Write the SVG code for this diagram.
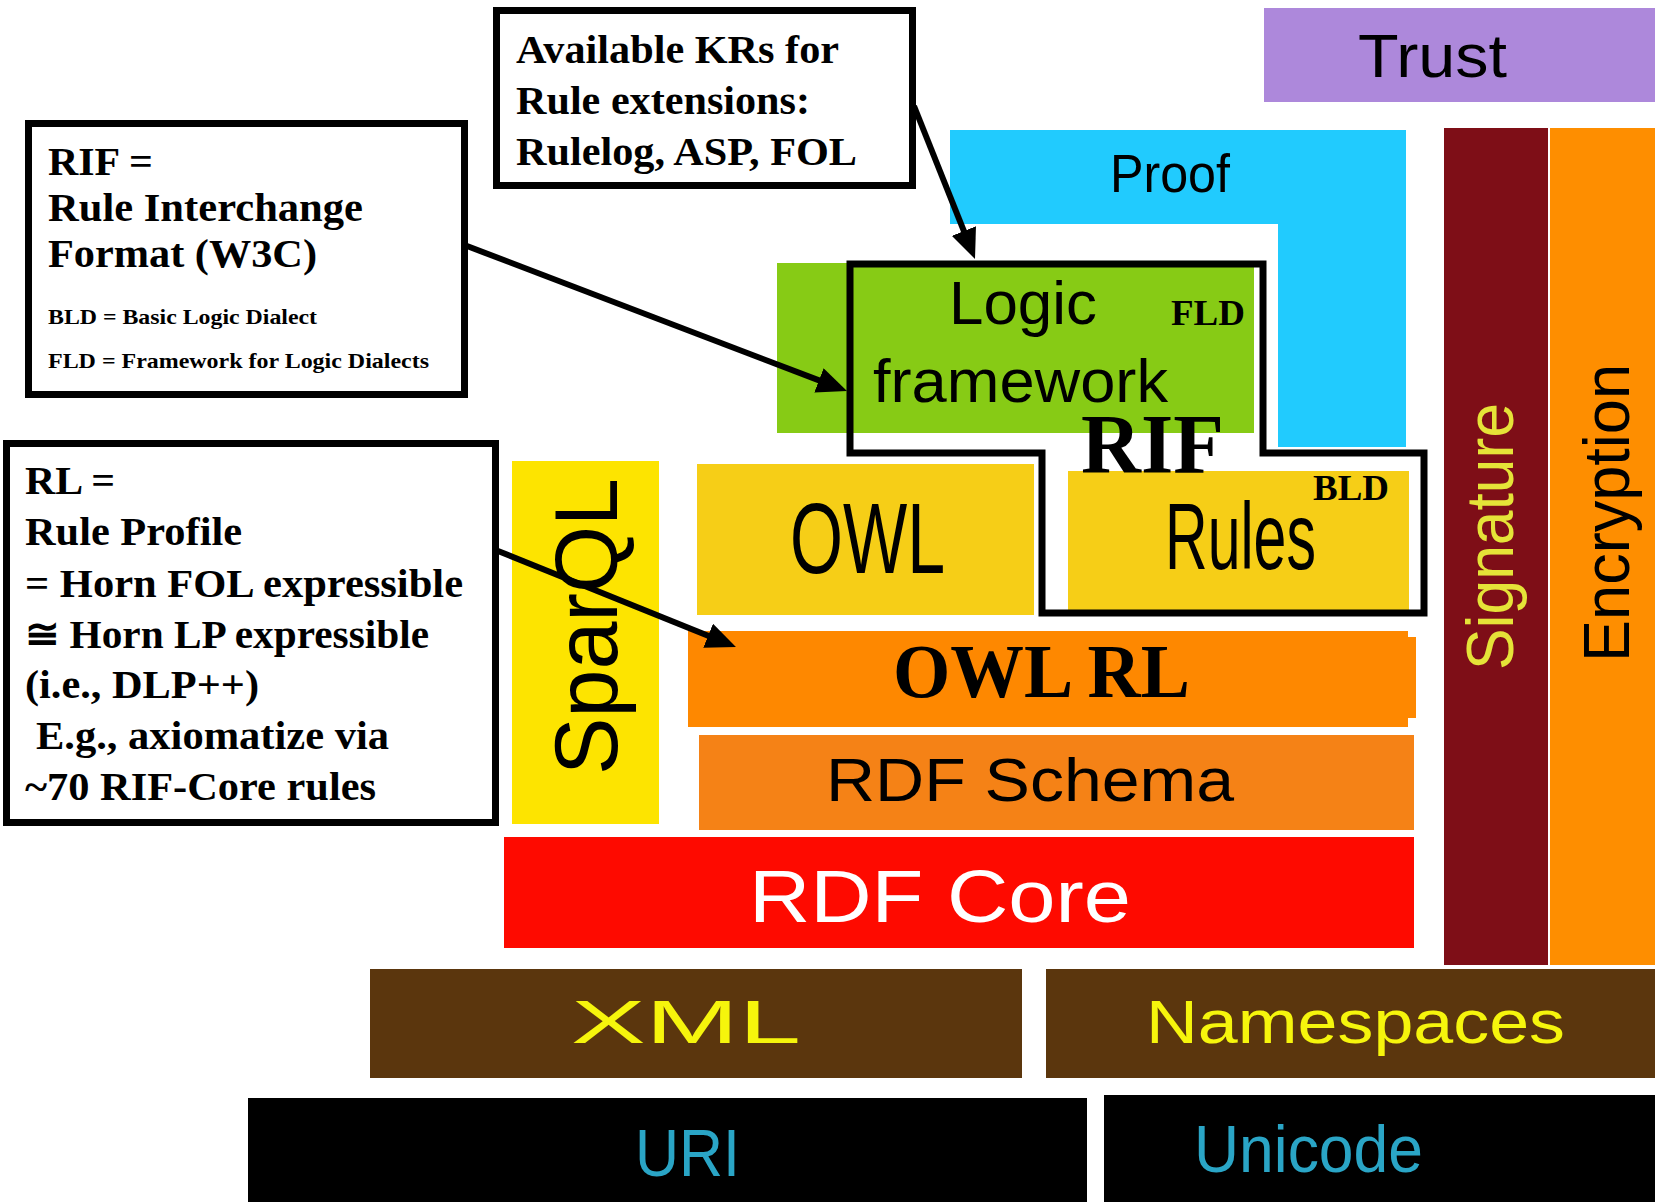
<svg xmlns="http://www.w3.org/2000/svg" width="1655" height="1202" viewBox="0 0 1655 1202">
<style>
.sans{font-family:"Liberation Sans",Arial,sans-serif}
.serif{font-family:"Liberation Serif","DejaVu Serif",serif;font-weight:bold;fill:#000}
.box{fill:#fff;stroke:#000;stroke-width:7}
.conn{stroke:#000;stroke-width:6;fill:none}
</style>
<defs>
<marker id="ah" markerUnits="userSpaceOnUse" markerWidth="32" markerHeight="26" refX="10" refY="13" orient="auto">
<path d="M0,0 L30,13 L0,26 z" fill="#000"/>
</marker>
</defs>
<rect width="1655" height="1202" fill="#fff"/>

<g id="trust">
<rect x="1264" y="8" width="391" height="94" fill="#AD88DB"/>
<text class="sans" x="1358" y="77" font-size="61" textLength="149" lengthAdjust="spacingAndGlyphs" fill="#000">Trust</text>
</g>

<g id="proof">
<path d="M950,130 H1406 V447 H1278 V224 H950 Z" fill="#21CBFE"/>
<text class="sans" x="1110" y="192" font-size="53" textLength="120" lengthAdjust="spacingAndGlyphs" fill="#000">Proof</text>
</g>

<g id="signature">
<rect x="1444" y="128" width="104" height="837" fill="#7E0E17"/>
<text class="sans" transform="translate(1513,670) rotate(-90)" font-size="66" textLength="267" lengthAdjust="spacingAndGlyphs" fill="#E5E338">Signature</text>
</g>

<g id="encryption">
<rect x="1550" y="128" width="105" height="837" fill="#FE8E00"/>
<text class="sans" transform="translate(1629,662) rotate(-90)" font-size="64" textLength="298" lengthAdjust="spacingAndGlyphs" fill="#000">Encryption</text>
</g>

<g id="rif">
<path d="M850,264 H1263 V453 H1424 V613 H1042 V453 H850 Z" fill="#fff"/>
<rect x="777" y="263" width="477" height="170" fill="#87CB15"/>
<rect x="1068" y="471" width="341" height="139" fill="#F6CE17"/>
<path d="M850,264 H1263 V453 H1424 V613 H1042 V453 H850 Z" fill="none" stroke="#000" stroke-width="7"/>
<text class="sans" x="949" y="324" font-size="62" textLength="148" lengthAdjust="spacingAndGlyphs" fill="#000">Logic</text>
<text class="sans" x="873" y="402" font-size="62" textLength="295" lengthAdjust="spacingAndGlyphs" fill="#000">framework</text>
<text class="serif" x="1171" y="325" font-size="36" textLength="74" lengthAdjust="spacingAndGlyphs">FLD</text>
<text class="serif" x="1081" y="473" font-size="85" textLength="143" lengthAdjust="spacingAndGlyphs">RIF</text>
<text class="sans" x="1165" y="569" font-size="94" textLength="151" lengthAdjust="spacingAndGlyphs" fill="#000">Rules</text>
<text class="serif" x="1313" y="500" font-size="36" textLength="76" lengthAdjust="spacingAndGlyphs">BLD</text>
</g>

<g id="sparql">
<rect x="512" y="461" width="147" height="363" fill="#FDE400"/>
<text class="sans" transform="translate(617,775) rotate(-90)" font-size="89" textLength="297" lengthAdjust="spacingAndGlyphs" fill="#000">SparQL</text>
</g>

<g id="owl">
<rect x="697" y="464" width="337" height="151" fill="#F6CE17"/>
<text class="sans" x="790" y="573" font-size="100" textLength="155" lengthAdjust="spacingAndGlyphs" fill="#000">OWL</text>
</g>

<g id="owl-rl">
<rect x="688" y="631" width="720" height="96" fill="#FE8800"/>
<rect x="1408" y="637" width="8" height="81" fill="#FE8800"/>
<text class="serif" x="893" y="697" font-size="76" textLength="297" lengthAdjust="spacingAndGlyphs">OWL RL</text>
</g>

<g id="rdf-schema">
<rect x="699" y="735" width="715" height="95" fill="#F58216"/>
<text class="sans" x="826" y="801" font-size="62" textLength="408" lengthAdjust="spacingAndGlyphs" fill="#000">RDF Schema</text>
</g>

<g id="rdf-core">
<rect x="504" y="837" width="910" height="111" fill="#FE0A00"/>
<text class="sans" x="749" y="922" font-size="75" textLength="382" lengthAdjust="spacingAndGlyphs" fill="#fff">RDF Core</text>
</g>

<g id="xml">
<rect x="370" y="969" width="652" height="109" fill="#5B360D"/>
<text class="sans" x="571" y="1043" font-size="61" textLength="230" lengthAdjust="spacingAndGlyphs" fill="#F6F50C">XML</text>
</g>

<g id="namespaces">
<rect x="1046" y="969" width="609" height="109" fill="#5B360D"/>
<text class="sans" x="1146" y="1043" font-size="61" textLength="419" lengthAdjust="spacingAndGlyphs" fill="#F6F50C">Namespaces</text>
</g>

<g id="uri">
<rect x="248" y="1098" width="839" height="104" fill="#000"/>
<text class="sans" x="635" y="1176" font-size="66" textLength="105" lengthAdjust="spacingAndGlyphs" fill="#2AA5C6">URI</text>
</g>

<g id="unicode">
<rect x="1104" y="1095" width="551" height="107" fill="#000"/>
<text class="sans" x="1194" y="1172" font-size="66" textLength="229" lengthAdjust="spacingAndGlyphs" fill="#2AA5C6">Unicode</text>
</g>

<g id="kr-note">
<rect class="box" x="496.5" y="10.5" width="416" height="175"/>
<text class="serif" x="516" y="63" font-size="41" textLength="323" lengthAdjust="spacingAndGlyphs">Available KRs for</text>
<text class="serif" x="516" y="114" font-size="41" textLength="294" lengthAdjust="spacingAndGlyphs">Rule extensions:</text>
<text class="serif" x="516" y="165" font-size="41" textLength="341" lengthAdjust="spacingAndGlyphs">Rulelog, ASP, FOL</text>
</g>

<g id="rif-note">
<rect class="box" x="28.5" y="123.5" width="436" height="271"/>
<text class="serif" x="48" y="175" font-size="41" textLength="105" lengthAdjust="spacingAndGlyphs">RIF =</text>
<text class="serif" x="48" y="221" font-size="41" textLength="315" lengthAdjust="spacingAndGlyphs">Rule Interchange</text>
<text class="serif" x="48" y="267" font-size="41" textLength="269" lengthAdjust="spacingAndGlyphs">Format (W3C)</text>
<text class="serif" x="48" y="324" font-size="22" textLength="269" lengthAdjust="spacingAndGlyphs">BLD = Basic Logic Dialect</text>
<text class="serif" x="48" y="368" font-size="22" textLength="381" lengthAdjust="spacingAndGlyphs">FLD = Framework for Logic Dialects</text>
</g>

<g id="rl-note">
<rect class="box" x="6.5" y="443.5" width="489" height="379"/>
<text class="serif" x="25" y="494" font-size="41" textLength="90" lengthAdjust="spacingAndGlyphs">RL =</text>
<text class="serif" x="25" y="545" font-size="41" textLength="217" lengthAdjust="spacingAndGlyphs">Rule Profile</text>
<text class="serif" x="25" y="597" font-size="41" textLength="438" lengthAdjust="spacingAndGlyphs">= Horn FOL expressible</text>
<text class="serif" x="25" y="648" font-size="41" textLength="404" lengthAdjust="spacingAndGlyphs">≅ Horn LP expressible</text>
<text class="serif" x="25" y="698" font-size="41" textLength="234" lengthAdjust="spacingAndGlyphs">(i.e., DLP++)</text>
<text class="serif" x="36" y="749" font-size="41" textLength="353" lengthAdjust="spacingAndGlyphs">E.g., axiomatize via</text>
<text class="serif" x="25" y="800" font-size="41" textLength="351" lengthAdjust="spacingAndGlyphs">~70 RIF-Core rules</text>
</g>

<g id="connectors">
<line class="conn" x1="914" y1="106" x2="967.6" y2="240.4" marker-end="url(#ah)"/>
<line class="conn" x1="467" y1="246" x2="828.3" y2="383.9" marker-end="url(#ah)"/>
<line class="conn" x1="498" y1="551" x2="717.4" y2="639.5" marker-end="url(#ah)"/>
</g>
</svg>
